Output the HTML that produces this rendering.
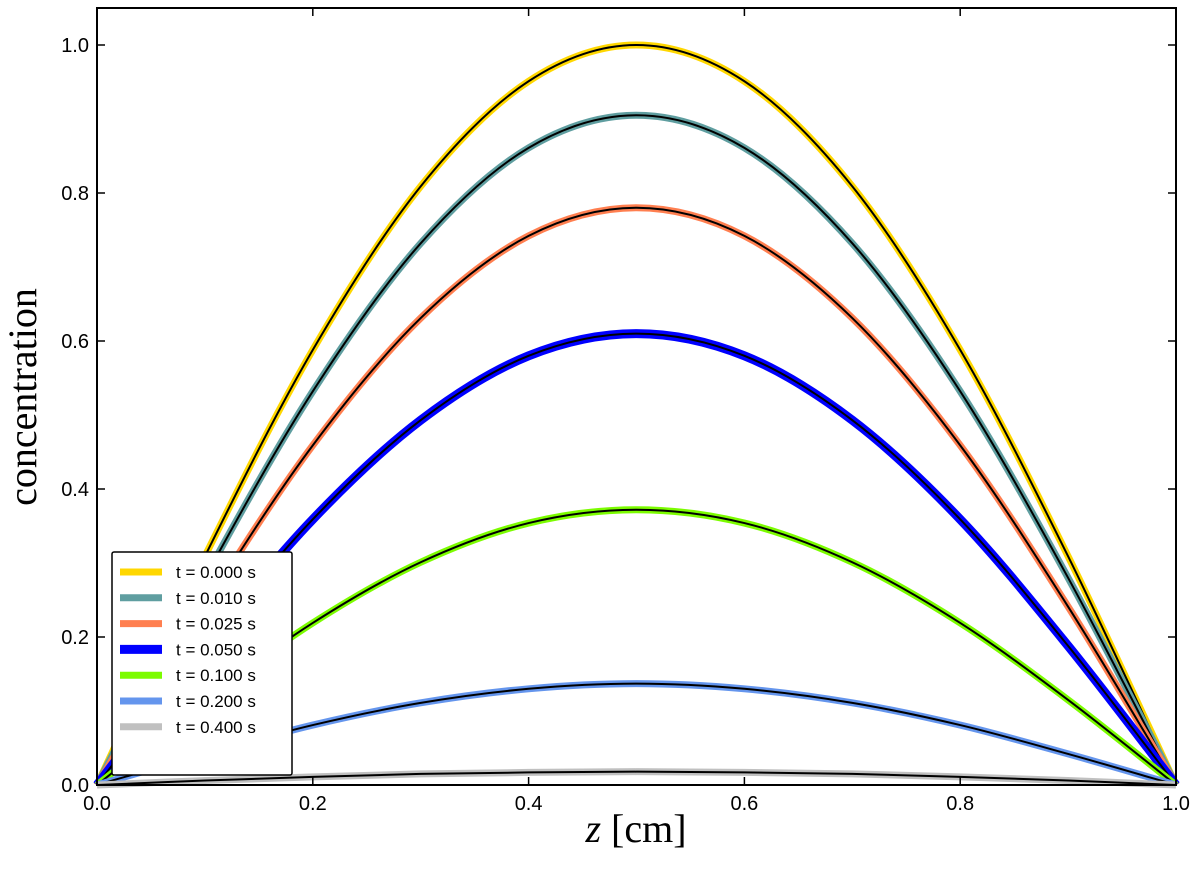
<!DOCTYPE html>
<html><head><meta charset="utf-8"><style>
html,body{margin:0;padding:0;background:#fff;}
svg{display:block;}
text{font-family:"Liberation Sans",sans-serif;}
</style></head><body>
<svg id="chart" width="1200" height="888" viewBox="0 0 1200 888" xmlns="http://www.w3.org/2000/svg">
<g id="plot"></g>
<rect x="97" y="8" width="1079" height="777" fill="none" stroke="#000" stroke-width="2"/>
<g id="ticks"></g>
<text transform="translate(36,397) rotate(-90)" text-anchor="middle" style="font-family:'Liberation Serif',serif;font-size:40px">concentration</text>
<text x="636" y="842" text-anchor="middle" style="font-family:'Liberation Serif',serif;font-size:40px"><tspan font-style="italic">z</tspan> [cm]</text>
<g id="legend"></g>
</svg>
<script>
const zValues=[0,0.1,0.2,0.3,0.4,0.5,0.6,0.7,0.8,0.9,1.0];
const seriesLabels=["t = 0.000 s","t = 0.010 s","t = 0.025 s","t = 0.050 s","t = 0.100 s","t = 0.200 s","t = 0.400 s"];
const s0=[0,0.309,0.588,0.809,0.951,1.000,0.951,0.809,0.588,0.309,0];
const s1=[0,0.280,0.532,0.732,0.861,0.905,0.861,0.732,0.532,0.280,0];
const s2=[0,0.241,0.459,0.631,0.742,0.780,0.742,0.631,0.459,0.241,0];
const s3=[0,0.188,0.359,0.493,0.580,0.610,0.580,0.493,0.359,0.188,0];
const s4=[0,0.115,0.219,0.301,0.354,0.372,0.354,0.301,0.219,0.115,0];
const s5=[0,0.042,0.081,0.111,0.130,0.137,0.130,0.111,0.081,0.042,0];
const s6=[0,0.006,0.011,0.015,0.017,0.018,0.017,0.015,0.011,0.006,0];
const xTicks=["0.0","0.2","0.4","0.6","0.8","1.0"];
const yTicks=["0.0","0.2","0.4","0.6","0.8","1.0"];
const allSeries=[s0,s1,s2,s3,s4,s5,s6];
const colors=["#ffd700","#5f9ea0","#ff7f50","#0000ff","#7cfc00","#6495ed","#c0c0c0"];
const widths=[7,7,7,9,7,7,7];
const NS="http://www.w3.org/2000/svg";
const X0=97,X1=1176,Y0=785,YT=8,YMAX=1.05;
const xs=v=>X0+(X1-X0)*v;
const ys=v=>Y0-(Y0-YT)*v/YMAX;
function mk(t,a,p){const e=document.createElementNS(NS,t);for(const k in a)e.setAttribute(k,a[k]);p.appendChild(e);return e;}
function pathFor(vals){
  const P=vals.map((v,i)=>[xs(zValues[i]),ys(v)]);
  let d="M"+P[0][0]+","+P[0][1];
  for(let i=0;i<P.length-1;i++){
    const p0=P[i-1]||P[i],p1=P[i],p2=P[i+1],p3=P[i+2]||P[i+1];
    const c1=[p1[0]+(p2[0]-p0[0])/6,p1[1]+(p2[1]-p0[1])/6];
    const c2=[p2[0]-(p3[0]-p1[0])/6,p2[1]-(p3[1]-p1[1])/6];
    d+=" C"+c1+" "+c2+" "+p2;
  }
  return d;
}
const plot=document.getElementById("plot");
allSeries.forEach((s,i)=>{
  const c=mk("path",{d:pathFor(s),fill:"none",stroke:colors[i],"stroke-width":widths[i]},plot);
  
  
  const b=mk("path",{d:pathFor(s),fill:"none",stroke:"#000","stroke-width":2},plot);
  
  
});
const tk=document.getElementById("ticks");
xTicks.forEach(l=>{
  const x=xs(parseFloat(l));
  mk("line",{x1:x,x2:x,y1:Y0,y2:Y0-8,stroke:"#000","stroke-width":1.5},tk);
  mk("line",{x1:x,x2:x,y1:YT,y2:YT+8,stroke:"#000","stroke-width":1.5},tk);
  const t=mk("text",{x:x,y:Y0+25,"text-anchor":"middle","font-size":20},tk);t.textContent=l;
  
  
});
yTicks.forEach(l=>{
  const y=ys(parseFloat(l));
  mk("line",{x1:X0,x2:X0+8,y1:y,y2:y,stroke:"#000","stroke-width":1.5},tk);
  mk("line",{x1:X1,x2:X1-8,y1:y,y2:y,stroke:"#000","stroke-width":1.5},tk);
  const t=mk("text",{x:X0-8,y:y+7,"text-anchor":"end","font-size":20},tk);t.textContent=l;
  
  
});
const lg=document.getElementById("legend");
mk("rect",{x:112,y:552,width:180,height:223,fill:"#fff",stroke:"#000","stroke-width":1.5,rx:2},lg);
seriesLabels.forEach((l,i)=>{
  const y=572+i*25.8;
  const ln=mk("line",{x1:120,x2:162,y1:y,y2:y,stroke:colors[i],"stroke-width":widths[i]},lg);
  
  
  const t=mk("text",{x:176,y:y+6,"font-size":17},lg);t.textContent=l;
  
  
});
</script>
</body></html>
